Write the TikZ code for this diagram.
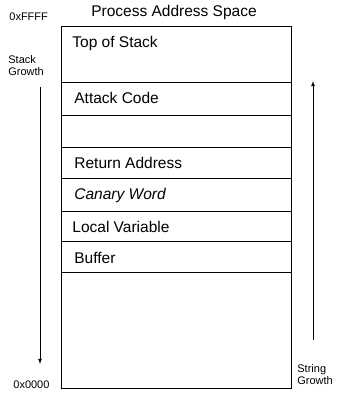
\documentclass[tikz,border=0pt]{standalone}
\usepackage{fontspec}
\setmainfont{Liberation Sans}
\begin{document}
\begin{tikzpicture}[x=1pt,y=-1pt,line width=0.8pt,
  cell/.style={anchor=west,font=\fontsize{15.5}{17}\selectfont,inner sep=0pt},
  side/.style={font=\fontsize{11}{12}\selectfont,inner sep=0pt,align=left}]
\useasboundingbox (0,0) rectangle (337,398);

% Title
\node[font=\fontsize{15.5}{17}\selectfont,inner sep=0pt] (title) at (174,12) {Process Address Space};

% Memory block
\draw (61,26) rectangle (291,388);
\draw (61,82) -- (291,82);
\draw (61,115) -- (291,115);
\draw (61,147) -- (291,147);
\draw (61,178) -- (291,178);
\draw (61,211) -- (291,211);
\draw (61,241) -- (291,241);
\draw (61,272) -- (291,272);

% Cells
\node[cell] (top) at (72,43) {Top of Stack};
\node[cell] (attack) at (74,98) {Attack Code};
\node[cell] (ret) at (74,163) {Return Address};
\node[cell] (canary) at (74,195) {\itshape Canary Word};
\node[cell] (local) at (72,227) {Local Variable};
\node[cell] (buffer) at (74,258) {Buffer};

% Addresses
\node[side,anchor=west] (high) at (9,17) {0xFFFF};
\node[side,anchor=west] (low) at (13,385) {0x0000};

% Growth
\node[side,anchor=west] (stack) at (8,66) {Stack\\Growth};
\coordinate (stackend) at (40,364);
\draw[-latex] (40,87) -- (stackend);

\node[side,anchor=west] (string) at (297,375) {String\\Growth};
\coordinate (stringend) at (313,81);
\draw[-latex] (313,340) -- (stringend);

\end{tikzpicture}
\end{document}
